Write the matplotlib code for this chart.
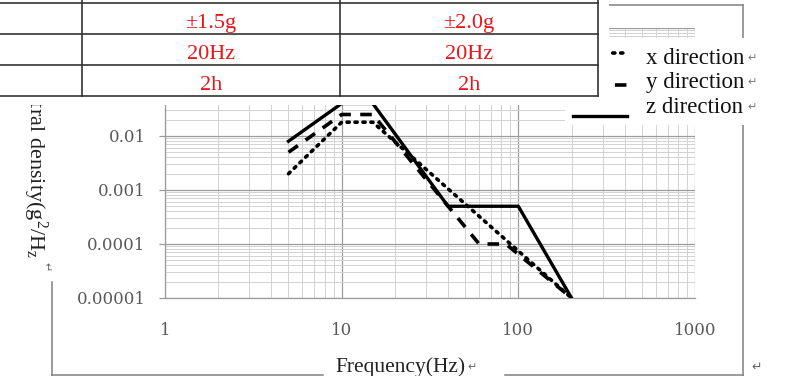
import matplotlib
matplotlib.use("Agg")
import matplotlib.pyplot as plt
from matplotlib.patches import Rectangle
from matplotlib.lines import Line2D
from matplotlib.ticker import LogLocator, FixedLocator, NullFormatter

plt.rcParams['mathtext.fontset'] = 'custom'
plt.rcParams['mathtext.rm'] = 'Liberation Serif'
plt.rcParams['mathtext.it'] = 'Liberation Serif:italic'

# ---- data ----
freq_x = [5, 10, 15, 200]
psd_x = [0.002, 0.018, 0.018, 0.00001]
freq_y = [5, 10, 15, 60, 85, 200]
psd_y = [0.005, 0.025, 0.025, 0.0001, 0.0001, 0.00001]
freq_z = [5, 10, 15, 40, 100, 200]
psd_z = [0.008, 0.04, 0.04, 0.0005, 0.0005, 0.00001]

x_ticks = [1, 10, 100, 1000]
x_tick_labels = ["1", "10", "100", "1000"]
y_ticks = [0.00001, 0.0001, 0.001, 0.01, 0.1, 1]
y_tick_labels = ["0.00001", "0.0001", "0.001", "0.01", "0.1", "1"]

series_labels = ["x direction", "y direction", "z direction"]
table_col1 = ["\u00b11.5g", "20Hz", "2h"]
table_col2 = ["\u00b12.0g", "20Hz", "2h"]

W, H = 787, 376
def fx(x): return x / W
def fy(y): return 1 - y / H

fig = plt.figure(figsize=(W / 100, H / 100), dpi=100)
fig.patch.set_facecolor('white')

ax = fig.add_axes([fx(165), fy(298), fx(695) - fx(165), fy(28) - fy(298)])
ax.set_xscale('log')
ax.set_yscale('log')
ax.set_xlim(1, 1000)
ax.set_ylim(1e-5, 1)

ax.plot(freq_x, psd_x, color='black', lw=2.6, linestyle=(0, (0.6, 1.6)),
        dash_capstyle='round', label=series_labels[0], zorder=3)
ax.plot(freq_y, psd_y, color='black', lw=2.6, linestyle=(0, (3.2, 2.6)),
        label=series_labels[1], zorder=3)
ax.plot(freq_z, psd_z, color='black', lw=2.4, linestyle='-',
        label=series_labels[2], zorder=3)

ax.xaxis.set_major_locator(FixedLocator(x_ticks))
ax.set_xticklabels(x_tick_labels)
ax.yaxis.set_major_locator(FixedLocator(y_ticks))
ax.set_yticklabels(y_tick_labels)
ax.xaxis.set_minor_locator(LogLocator(base=10, subs=range(2, 10), numticks=20))
ax.yaxis.set_minor_locator(LogLocator(base=10, subs=range(2, 10), numticks=20))
ax.xaxis.set_minor_formatter(NullFormatter())
ax.yaxis.set_minor_formatter(NullFormatter())

ax.grid(which='major', color='#9c9c9c', lw=0.9)
ax.grid(which='minor', color='#d2d2d2', lw=0.7)
ax.set_axisbelow(True)

for s in ['top', 'right']:
    ax.spines[s].set_visible(False)
for s in ['left', 'bottom']:
    ax.spines[s].set_color('#9c9c9c')
    ax.spines[s].set_linewidth(0.9)

ax.tick_params(axis='x', which='both', length=0, pad=17)
ax.tick_params(axis='y', which='major', length=4, width=0.9, color='#9c9c9c', pad=10)
ax.tick_params(axis='y', which='minor', length=0)
for lab in ax.get_xticklabels() + ax.get_yticklabels():
    lab.set_fontfamily('DejaVu Serif')
    lab.set_fontsize(12)
    lab.set_color('#595959')

serif = ['Liberation Serif', 'DejaVu Sans']
gray = '#808080'

# ---- document frame around chart ----
def fline(x0, y0, x1, y1, color=gray, lw=1.1, z=2, **kw):
    fig.add_artist(Line2D([fx(x0), fx(x1)], [fy(y0), fy(y1)], color=color,
                          lw=lw, transform=fig.transFigure, zorder=z, **kw))

fline(52, 282, 52, 376)
fline(52, 375, 323, 375)
fline(505, 375, 743, 375)
fline(743, 5, 743, 376)
fline(609, 5, 743, 5)

# ---- axis titles ----
fig.text(fx(335), fy(372), "Frequency(Hz)", family=serif, fontsize=15.5,
         color='#222222', ha='left', va='baseline', zorder=3)
fig.text(fx(467), fy(367), "\u21b5", family=['DejaVu Sans'], fontsize=8,
         color='#666666', ha='left', va='center', zorder=3)
fig.text(fx(751), fy(367), "\u21b5", family=['DejaVu Sans'], fontsize=9,
         color='#666666', ha='left', va='center', zorder=3)

fig.text(fx(35), fy(258), r"Power spectral density(g$^2$/H$_\mathrm{z}$",
         family=serif, fontsize=16, color='#222222', rotation=270,
         ha='center', va='bottom', zorder=3)
fig.text(fx(46), fy(267), "\u21b5", family=['DejaVu Sans'], fontsize=8,
         color='#666666', rotation=270, ha='center', va='center', zorder=3)

# ---- legend (white box in document) ----
fig.add_artist(Rectangle((fx(565), fy(125)), fx(775) - fx(565), fy(38) - fy(125),
                         transform=fig.transFigure, facecolor='white',
                         edgecolor='none', zorder=3))
leg_y_line = [53, 85, 116]
leg_y_text = [64, 88, 113]
styles = [dict(linestyle=(0, (0.6, 1.6)), dash_capstyle='round', lw=2.6),
          dict(linestyle=(0, (3.2, 2.6)), lw=2.6),
          dict(linestyle='-', lw=2.4)]
for lbl, yl, yt, st in zip(series_labels, leg_y_line, leg_y_text, styles):
    fig.add_artist(Line2D([fx(573), fx(627)], [fy(yl), fy(yl)], color='black',
                          transform=fig.transFigure, zorder=4, **st))
    fig.text(fx(646), fy(yt), lbl, family=serif, fontsize=16.5, color='#111111',
             ha='left', va='baseline', zorder=4)
    fig.text(fx(747), fy(yt - 6), "\u21b5", family=['DejaVu Sans'], fontsize=8,
             color='#777777', ha='left', va='center', zorder=4)

# ---- table overlapping the top ----
fig.add_artist(Rectangle((0, fy(104.5)), fx(609), 1 - fy(104.5),
                         transform=fig.transFigure, facecolor='white',
                         edgecolor='none', zorder=5))
for yy in [3, 34, 65, 96]:
    fline(0, yy, 598, yy, color='#333333', lw=1.2, z=6)
for xx in [82, 340, 598]:
    fline(xx, 0, xx, 96, color='#333333', lw=1.2, z=6)
red = '#e8161b'
for txt1, txt2, yb in zip(table_col1, table_col2, [28, 59, 90]):
    fig.text(fx(211), fy(yb), txt1, family=serif, fontsize=16, color=red,
             ha='center', va='baseline', zorder=7)
    fig.text(fx(469), fy(yb), txt2, family=serif, fontsize=16, color=red,
             ha='center', va='baseline', zorder=7)

fig.savefig("out.png", dpi=100)
